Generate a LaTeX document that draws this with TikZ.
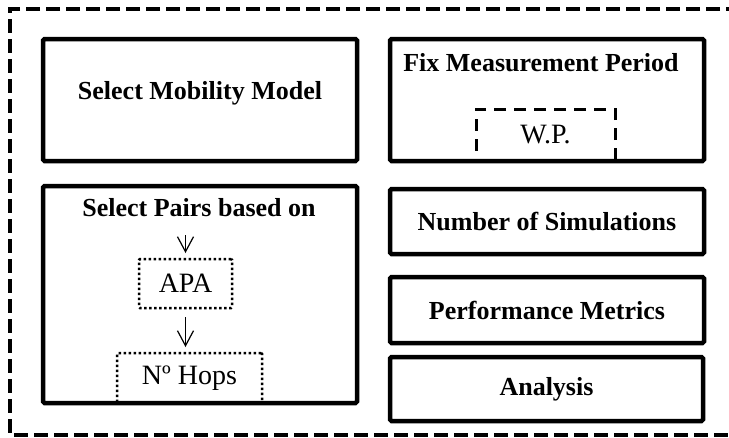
\documentclass[tikz,border=0pt]{standalone}
\usepackage{fontspec}
\setmainfont{Liberation Serif}
\usetikzlibrary{arrows.meta}
\begin{document}
\begin{tikzpicture}[x=1pt,y=-1pt,
  box/.style={draw, line width=4.5pt, rounded corners=1.5pt, inner sep=0pt, outer sep=0pt,
    minimum width=314pt, font=\bfseries\fontsize{26}{30}\selectfont},
  btext/.style={inner sep=0pt, font=\bfseries\fontsize{26}{30}\selectfont},
  dotbox/.style={draw, line width=2.5pt, dash pattern=on 2.5pt off 2.5pt, rounded corners=1pt,
    inner sep=0pt, outer sep=0pt, font=\fontsize{28}{32}\selectfont},
  dashbox/.style={draw, line width=3pt, dash pattern=on 12pt off 8pt,
    inner sep=0pt, outer sep=0pt, font=\fontsize{28}{32}\selectfont},
  outerline/.style={draw, line width=3.5pt, dash pattern=on 14pt off 6pt},
  arr/.style={line width=1.2pt, -{Straight Barb[length=15pt,width=16pt,line width=1.2pt]}}
]
\useasboundingbox (0,0) rectangle (729,437);
\clip (0,0) rectangle (729,437);
% outer dashed frame
\draw[outerline] (740,9) -- (10,9) -- (10,435) -- (740,435);
% inner dashed / dotted boxes (drawn first, main borders overlay them)
\node[dashbox, minimum width=139pt, minimum height=52pt] (wp) at (545.5,135) {W.P.};
\node[dotbox, minimum width=93pt, minimum height=49pt] (apa) at (185.5,283.5) {APA};
\node[dotbox, minimum width=145pt, minimum height=50pt] (hops) at (189.5,378) {N\textordmasculine{} Hops};
% main boxes
\node[box, minimum height=122pt] (mob) at (200,100) {};
\node[btext] (mobt) at (200,93) {Select Mobility Model};
\node[box, minimum height=122pt] (fix) at (547,100) {};
\node[btext] (fixt) at (541,63) {Fix Measurement Period};
\node[box, minimum height=217pt] (pairs) at (200,294.5) {};
\node[btext] (pairst) at (199,208) {Select Pairs based on};
\node[box, minimum height=65pt] (nsim) at (547,221.5) {Number of Simulations};
\node[box, minimum height=66pt] (perf) at (547,310) {Performance Metrics};
\node[box, minimum height=64pt, minimum width=313pt] (ana) at (546.5,389) {Analysis};
% arrows
\coordinate (a1) at (185.5,235);
\draw[arr, shorten >=6pt] (a1) -- (apa.north);
\draw[arr, shorten <=9pt, shorten >=6pt] (apa.south) -- (apa.south |- hops.north);
\end{tikzpicture}
\end{document}
